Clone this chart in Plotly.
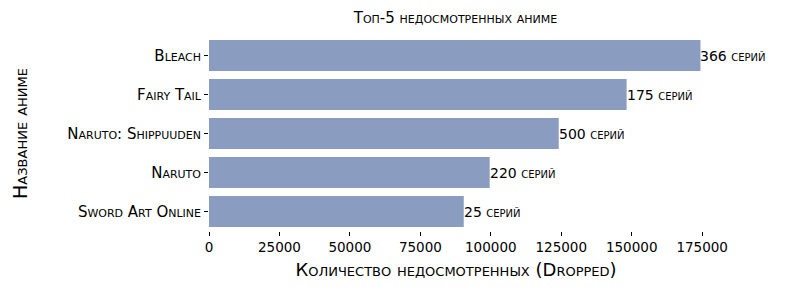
import plotly.graph_objects as go

titles = ["Bleach", "Fairy Tail", "Naruto: Shippuuden", "Naruto", "Sword Art Online"]
dropped = [174400, 148200, 124100, 99600, 90400]
episodes = [366, 175, 500, 220, 25]
tick_vals = [0, 25000, 50000, 75000, 100000, 125000, 150000, 175000]
labels = [f"{e} серий" for e in episodes]

FONT = "DejaVu Sans"
BAR = "#8a9cbf"

fig = go.Figure()
fig.add_trace(go.Bar(
    x=dropped, y=titles, orientation="h",
    marker=dict(color=BAR, line=dict(width=0)),
    width=0.79,
    hoverinfo="skip",
))
for v, t, lab in zip(dropped, titles, labels):
    fig.add_annotation(x=v, y=t, text=lab, showarrow=False, xanchor="left",
                       yanchor="middle", xshift=-2,
                       font=dict(family=FONT, size=14, color="black", variant="small-caps"))

fig.update_layout(
    width=794, height=290,
    margin=dict(l=209, r=90.5, t=35.8, b=59.2),
    plot_bgcolor="white", paper_bgcolor="white",
    font=dict(family=FONT, color="black", variant="small-caps"),
    showlegend=False,
    title=dict(text="Топ-5 недосмотренных аниме", x=0.5737, xanchor="center",
               y=1 - 18 / 290, yanchor="middle",
               font=dict(family=FONT, size=15, color="black", variant="small-caps")),
    bargap=0.21,
)
fig.update_xaxes(
    range=[0, 175300], tickvals=tick_vals, ticktext=[str(v) for v in tick_vals],
    ticks="outside", ticklen=4, tickwidth=1, tickcolor="black",
    showgrid=False, zeroline=False, showline=False,
    tickfont=dict(family=FONT, size=13.5, color="black", variant="small-caps"),
    title=dict(text="Количество недосмотренных (Dropped)", standoff=9,
               font=dict(family=FONT, size=18, color="black", variant="small-caps")),
)
fig.update_yaxes(
    categoryorder="array", categoryarray=titles[::-1], range=[-0.5, 4.5],
    ticks="outside", ticklen=4, tickwidth=1, tickcolor="black",
    showgrid=False, zeroline=False, showline=False,
    tickfont=dict(family=FONT, size=15, color="black", variant="small-caps"),
    title=dict(text="Название аниме", standoff=34,
               font=dict(family=FONT, size=19, color="black", variant="small-caps")),
)
fig.write_html("out.html")
